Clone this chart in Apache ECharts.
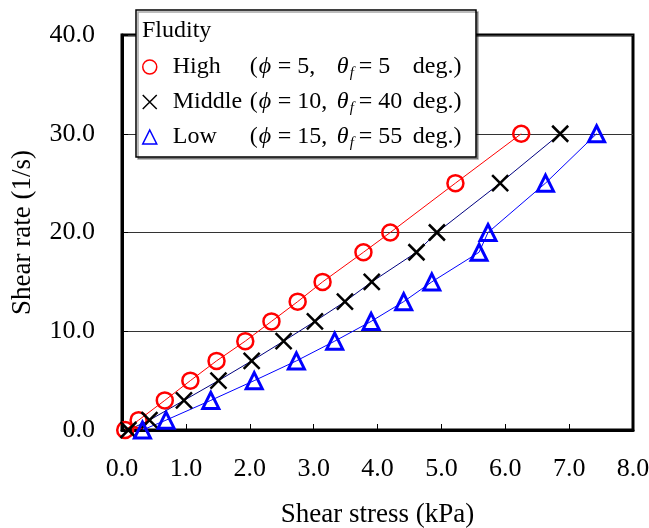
<!DOCTYPE html>
<html>
<head>
<meta charset="utf-8">
<script src="https://cdn.jsdelivr.net/npm/echarts@6/dist/echarts.min.js"></script>
<style>html,body{margin:0;padding:0;background:#fff}#c{width:649px;height:528px}</style>
</head>
<body>
<div id="c"></div>
<script>
var seriesNames = ['High', 'Middle', 'Low'];
var shearRate = [0, 1, 3, 5, 7, 9, 11, 13, 15, 18, 20, 25, 30];
var stressHigh = [0.05, 0.26, 0.67, 1.07, 1.48, 1.93, 2.34, 2.75, 3.14, 3.78, 4.20, 5.22, 6.25];
var stressMiddle = [0.10, 0.43, 0.97, 1.51, 2.03, 2.53, 3.02, 3.49, 3.91, 4.61, 4.93, 5.92, 6.86];
var stressLow = [0.32, 0.69, 1.39, 2.07, 2.73, 3.33, 3.90, 4.41, 4.85, 5.59, 5.73, 6.63, 7.43];
var phiValues = ['5,', '10,', '15,'];
var thetaValues = ['5', '40', '55'];
var xTicks = [0, 1, 2, 3, 4, 5, 6, 7, 8];
var yTicks = [0, 10, 20, 30, 40];

function pairs(xs, ys) { return xs.map(function (x, i) { return [x, ys[i]]; }); }

var FONT = '"Liberation Serif", "Times New Roman", serif';
var chart = echarts.init(document.getElementById('c'), null, {renderer: 'canvas'});

var legendText = {};
seriesNames.forEach(function (n, i) {
  legendText[n] = '{sp| }{n|' + n + '}{p|(}{i|ϕ}{t1| = ' + phiValues[i] + '}{i|θ}{s|f}{t2|= ' + thetaValues[i] + '}{d| deg.)}';
});

var LH = 28;
var option = {
  backgroundColor: '#fff',
  animation: false,
  grid: {left: 122, top: 35, width: 511, height: 395, show: true, borderColor: '#000', borderWidth: 3,
         backgroundColor: 'transparent', containLabel: false, outerBoundsMode: 'none'},
  xAxis: {
    type: 'value', min: xTicks[0], max: xTicks[xTicks.length - 1], interval: 1,
    name: 'Shear stress (kPa)', nameLocation: 'middle', nameGap: 71,
    nameTextStyle: {fontFamily: FONT, fontSize: 27, color: '#000'},
    axisLine: {show: true, lineStyle: {color: '#000', width: 3}},
    axisTick: {show: true, inside: true, length: 6, lineStyle: {color: '#000', width: 1}},
    axisLabel: {fontFamily: FONT, fontSize: 26, color: '#000', margin: 26, formatter: function (v) { return v.toFixed(1); }},
    splitLine: {show: false}
  },
  yAxis: {
    type: 'value', min: yTicks[0], max: yTicks[yTicks.length - 1], interval: 10,
    name: 'Shear rate (1/s)', nameLocation: 'middle', nameGap: 86,
    nameTextStyle: {fontFamily: FONT, fontSize: 27, color: '#000'},
    axisLine: {show: true, lineStyle: {color: '#000', width: 3}},
    axisTick: {show: true, inside: true, length: 6, lineStyle: {color: '#000', width: 1}},
    axisLabel: {fontFamily: FONT, fontSize: 26, color: '#000', margin: 27, formatter: function (v) { return v.toFixed(1); }},
    splitLine: {show: true, lineStyle: {color: '#333', width: 1}}
  },
  graphic: [
    {type: 'rect', z: 3, shape: {x: 136, y: 10, width: 340, height: 147},
     style: {fill: '#fff', stroke: '#000', lineWidth: 1.5, shadowColor: 'rgba(0,0,0,0.35)', shadowOffsetX: 2, shadowOffsetY: 2, shadowBlur: 0}},
    {type: 'text', z: 4, left: 142, top: 19,
     style: {text: 'Fludity', font: '24px ' + FONT, fill: '#000'}}
  ],
  legend: {
    orient: 'vertical', left: 142, top: 55, itemGap: 9, itemWidth: 14, itemHeight: 14, z: 5,
    padding: 0,
    data: [
      {name: 'High', icon: 'circle', itemStyle: {color: 'transparent', borderColor: '#ff0000', borderWidth: 1.5}},
      {name: 'Middle', icon: 'path://M0,0L10,10M10,0L0,10', itemStyle: {color: 'transparent', borderColor: '#000', borderWidth: 1.5}},
      {name: 'Low', icon: 'triangle', itemStyle: {color: 'transparent', borderColor: '#0000ff', borderWidth: 1.5}}
    ],
    formatter: function (n) { return legendText[n]; },
    textStyle: {
      fontFamily: FONT, fontSize: 24, color: '#000',
      rich: {
        sp: {width: 11, fontFamily: FONT, fontSize: 24, lineHeight: LH},
        n: {width: 77, fontFamily: FONT, fontSize: 24, lineHeight: LH},
        p: {width: 9, fontFamily: FONT, fontSize: 24, lineHeight: LH},
        i: {width: 13, fontFamily: FONT, fontSize: 24, fontStyle: 'italic', lineHeight: LH},
        t1: {width: 65, fontFamily: FONT, fontSize: 24, lineHeight: LH},
        s: {width: 9, fontFamily: FONT, fontSize: 15, fontStyle: 'italic', lineHeight: LH, verticalAlign: 'bottom'},
        t2: {width: 48, fontFamily: FONT, fontSize: 24, lineHeight: LH},
        d: {fontFamily: FONT, fontSize: 24, lineHeight: LH}
      }
    }
  },
  series: [
    {name: 'High', type: 'line', data: pairs(stressHigh, shearRate), symbol: 'circle', symbolSize: 16,
     lineStyle: {color: '#ff0000', width: 1}, itemStyle: {color: 'transparent', borderColor: '#ff0000', borderWidth: 2.5}, z: 3},
    {name: 'Middle', type: 'line', data: pairs(stressMiddle, shearRate), symbol: 'path://M0,0L10,10M10,0L0,10', symbolSize: 16,
     lineStyle: {color: '#000080', width: 1}, itemStyle: {color: 'transparent', borderColor: '#000', borderWidth: 2.5}, z: 3},
    {name: 'Low', type: 'line', data: pairs(stressLow, shearRate), symbol: 'triangle', symbolSize: 16,
     lineStyle: {color: '#0000ff', width: 1}, itemStyle: {color: 'transparent', borderColor: '#0000ff', borderWidth: 3}, z: 3}
  ]
};
chart.setOption(option);
</script>
</body>
</html>
